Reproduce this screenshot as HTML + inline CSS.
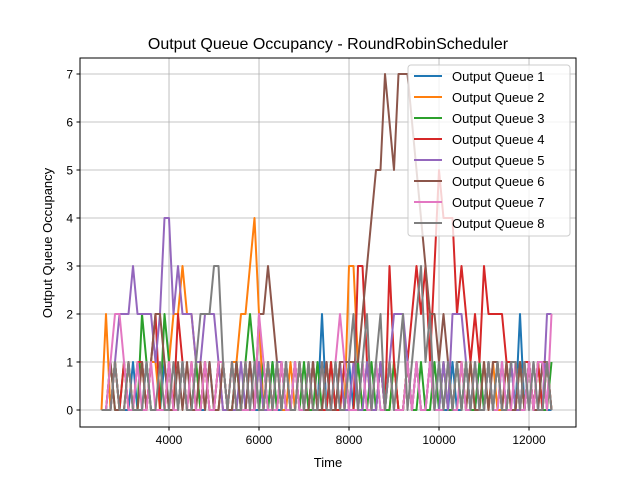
<!DOCTYPE html>
<html><head><meta charset="utf-8"><style>
body{margin:0;background:#fff;}
svg{font-family:"Liberation Sans","DejaVu Sans",sans-serif;}
</style></head><body>
<svg id="chart" width="640" height="480">
<rect width="640" height="480" fill="#fff"/>
<g id="grid"></g>
<g id="series"></g>
<rect x="80" y="58" width="496" height="369" fill="none" stroke="#000" stroke-width="1"/>
<g id="ticks"></g>
<text x="328" y="49" font-size="16" text-anchor="middle">Output Queue Occupancy - RoundRobinScheduler</text>
<text x="328" y="467" font-size="13" text-anchor="middle">Time</text>
<text x="52" y="243" font-size="13" text-anchor="middle" transform="rotate(-90 52 243)">Output Queue Occupancy</text>
<g id="legend"></g>
</svg>
<script>
const xTicks=[4000,6000,8000,10000,12000];
const yTicks=[0,1,2,3,4,5,6,7];
const tStart=2500, tStep=100;
const names=["Output Queue 1","Output Queue 2","Output Queue 3","Output Queue 4","Output Queue 5","Output Queue 6","Output Queue 7","Output Queue 8"];
const colors=["#1f77b4","#ff7f0e","#2ca02c","#d62728","#9467bd","#8c564b","#e377c2","#7f7f7f"];
const q1=[0,0,0,1,0,0,0,1,0,0,1,0,0,0,1,0,0,0,1,0,0,1,0,0,1,0,0,1,0,0,1,0,0,1,0,0,1,0,1,0,0,1,0,0,1,0,0,1,0,2,0,0,1,0,0,1,0,0,1,0,0,1,0,0,1,0,0,0,1,0,1,0,0,1,0,1,0,0,1,0,0,1,0,0,1,0,1,0,0,1,0,1,0,2,0,1,0,0,1,0,0];
const q2=[0,2,0,1,0,0,1,0,0,1,0,1,1,0,0,1,2,2,3,2,2,1,0,1,0,0,0,1,0,1,1,2,2,3,4,2,0,1,0,1,0,0,1,0,1,0,0,1,0,0,1,0,0,1,0,3,3,1,0,1,0,0,1,0,0,1,0,0,1,0,1,0,0,1,0,0,1,0,0,0,1,0,1,0,0,1,0,1,0,0,1,0,0,1,0,1,0,1,0,1,0];
const q3=[0,0,1,0,0,1,0,0,0,2,1,0,0,0,2,1,0,0,1,0,0,1,0,1,0,0,1,1,0,0,1,0,1,2,1,0,1,0,1,0,1,0,0,1,0,1,0,0,1,0,0,1,0,0,1,0,0,1,0,0,1,0,1,0,0,1,0,0,1,0,0,1,0,0,1,0,1,0,0,1,0,1,0,0,1,0,1,0,1,0,0,1,0,1,0,1,0,1,0,0,1];
const q4=[0,0,0,1,0,1,0,0,1,1,0,1,2,0,0,1,0,2,1,0,1,0,0,1,0,0,1,0,0,1,0,0,1,0,0,1,0,1,0,0,1,0,0,1,0,0,1,0,0,0,0,1,0,0,1,0,0,3,3,1,0,0,1,0,3,1,0,0,1,2,3,2,3,1,3,5,4,4,4,2,3,2,1,2,1,3,2,2,2,2,1,1,1,0,1,1,0,1,0,1,0];
const q5=[0,0,0,1,2,2,2,3,2,2,2,2,1,2,4,4,2,3,2,2,2,1,1,2,2,2,1,0,0,0,0,1,0,1,0,1,0,0,0,1,1,0,0,1,0,0,0,1,0,0,1,0,0,1,0,0,1,0,0,1,0,0,1,0,1,2,2,2,1,0,1,0,0,1,0,0,1,0,2,2,2,1,0,1,0,0,1,0,1,0,0,1,0,0,1,0,1,0,0,2,2];
const q6=[0,0,1,0,0,0,1,0,0,1,0,1,2,2,1,0,0,1,0,1,0,0,1,0,1,0,0,1,0,0,1,0,0,1,0,2,2,3,2,1,0,1,0,0,1,0,0,1,0,0,1,0,0,1,1,1,1,1,2,3,4,5,5,7,6,5,7,7,7,6,5,4,3,2,2,1,2,1,0,1,1,0,1,0,0,1,0,1,1,0,1,0,0,1,0,1,0,0,1,1,0];
const q7=[0,0,1,2,2,1,0,0,1,0,0,1,0,0,0,1,0,0,1,0,1,0,0,1,0,0,1,1,0,1,0,0,0,0,0,2,1,0,0,0,1,0,0,1,0,0,1,0,0,1,0,0,1,2,1,0,0,0,1,0,0,1,0,0,1,0,0,0,1,0,1,0,0,1,0,0,0,1,0,0,1,0,0,1,0,0,1,0,0,1,0,0,1,0,0,1,0,1,1,0,2];
const q8=[0,0,0,1,0,0,1,0,0,0,1,0,0,1,0,0,1,0,1,0,0,1,2,2,2,3,3,1,0,1,0,0,1,0,1,0,0,1,0,1,0,1,0,0,1,0,1,0,0,1,0,0,1,0,0,1,2,0,1,2,0,1,2,0,1,0,1,2,0,1,2,3,1,2,0,1,0,1,0,1,0,1,0,1,0,0,1,0,1,0,0,1,1,0,1,0,1,0,0,1,0];
const seriesData=[q1,q2,q3,q4,q5,q6,q7,q8];
const NS="http://www.w3.org/2000/svg";
const xMin=2022,xMax=13044,yMin=-0.354,yMax=7.333;
const L=80,R=576,T=58,B=427;
function xs(t){return L+(t-xMin)/(xMax-xMin)*(R-L);}
function ys(v){return B-(v-yMin)/(yMax-yMin)*(B-T);}
function mk(tag,attrs,parent){const e=document.createElementNS(NS,tag);for(const k in attrs)e.setAttribute(k,attrs[k]);parent.appendChild(e);return e;}
const grid=document.getElementById('grid'),ticks=document.getElementById('ticks');
xTicks.forEach(t=>{const x=xs(t);
 const g=mk('line',{x1:x,x2:x,y1:T,y2:B,stroke:'#b0b0b0','stroke-width':0.8},grid);
 
 
 const tk=mk('line',{x1:x,x2:x,y1:B,y2:B+3.5,stroke:'#000'},ticks);
 
 
 const tx=mk('text',{x:x,y:B+17,'font-size':12,'text-anchor':'middle'},ticks);tx.textContent=t;
 
 
});
yTicks.forEach(v=>{const y=ys(v);
 const g=mk('line',{x1:L,x2:R,y1:y,y2:y,stroke:'#b0b0b0','stroke-width':0.8},grid);
 
 
 const tk=mk('line',{x1:L-3.5,x2:L,y1:y,y2:y,stroke:'#000'},ticks);
 
 
 const tx=mk('text',{x:L-7,y:y+4.5,'font-size':12,'text-anchor':'end'},ticks);tx.textContent=v;
 
 
});
const sg=document.getElementById('series');
seriesData.forEach((arr,si)=>{
 const pts=arr.map((v,i)=>xs(tStart+i*tStep).toFixed(1)+','+ys(v).toFixed(1)).join(' ');
 const p=mk('polyline',{points:pts,fill:'none',stroke:colors[si],'stroke-width':2,'stroke-linejoin':'round'},sg);
 
 
});
const lg=document.getElementById('legend');
const box=mk('rect',{x:408,y:65,width:162,height:171,rx:3,fill:'#fff','fill-opacity':0.8,stroke:'#ccc'},lg);


names.forEach((n,i)=>{const y=76+i*21;
 const ln=mk('line',{x1:414,x2:442,y1:y,y2:y,stroke:colors[i],'stroke-width':2},lg);
 
 
 const tx=mk('text',{x:452,y:y+5,'font-size':13},lg);tx.textContent=n;
 
 
});
</script>
</body></html>
